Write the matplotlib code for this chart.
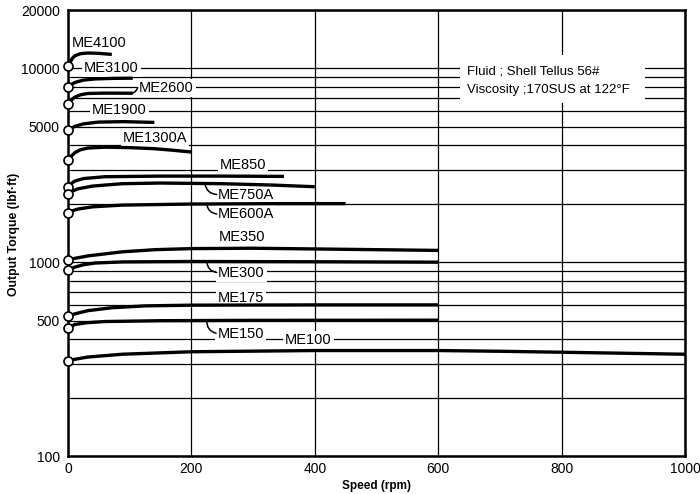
import matplotlib
matplotlib.use("Agg")
import matplotlib.pyplot as plt
from matplotlib.patches import Rectangle
from matplotlib.ticker import FixedLocator, FixedFormatter, NullFormatter

plt.rcParams['font.family'] = ['Liberation Sans', 'DejaVu Sans']

# ---------------- data (speed rpm, torque lbf.ft) ----------------
me4100_x = [0, 3, 7, 11, 20, 32, 50, 71]
me4100_y = [10300, 10700, 11250, 11600, 11900, 12000, 11950, 11800]

me3100_x = [0, 5, 11, 25, 45, 75, 105]
me3100_y = [8000, 8250, 8450, 8700, 8820, 8880, 8900]

me2600_x = [0, 5, 11, 20, 32, 60, 105]
me2600_y = [6580, 6850, 7100, 7300, 7420, 7450, 7440]

me1900_x = [0, 5, 11, 25, 49, 90, 140]
me1900_y = [4780, 4900, 5020, 5170, 5280, 5310, 5260]

me1300a_x = [0, 5, 11, 20, 32, 60, 100, 140, 170, 200]
me1300a_y = [3357, 3520, 3670, 3800, 3880, 3920, 3900, 3850, 3780, 3700]

me850_x = [0, 5, 11, 25, 60, 150, 250, 350]
me850_y = [2435, 2540, 2620, 2700, 2760, 2780, 2780, 2770]

me750a_x = [0, 5, 16, 40, 88, 150, 250, 330, 400]
me750a_y = [2252, 2310, 2390, 2470, 2540, 2560, 2540, 2500, 2450]

me600a_x = [0, 5, 16, 40, 88, 200, 350, 450]
me600a_y = [1790, 1830, 1880, 1930, 1970, 1995, 2005, 2005]

me350_x = [0, 10, 32, 88, 141, 200, 300, 400, 500, 600]
me350_y = [1025, 1045, 1077, 1131, 1160, 1175, 1180, 1170, 1160, 1150]

me300_x = [0, 5, 11, 25, 44, 88, 200, 400, 600]
me300_y = [910, 925, 943, 970, 990, 1003, 1008, 1005, 1000]

me175_x = [0, 10, 32, 71, 125, 200, 400, 600]
me175_y = [527, 540, 562, 582, 595, 600, 602, 602]

me150_x = [0, 5, 11, 30, 60, 150, 300, 600]
me150_y = [455, 465, 477, 487, 494, 499, 501, 502]

me100_x = [0, 10, 32, 88, 200, 400, 600, 700, 800, 900, 1000]
me100_y = [310, 315, 324, 335, 345, 350, 350, 347, 343, 339, 335]

curves = [
    (me4100_x, me4100_y), (me3100_x, me3100_y), (me2600_x, me2600_y),
    (me1900_x, me1900_y), (me1300a_x, me1300a_y), (me850_x, me850_y),
    (me750a_x, me750a_y), (me600a_x, me600a_y), (me350_x, me350_y),
    (me300_x, me300_y), (me175_x, me175_y), (me150_x, me150_y),
    (me100_x, me100_y),
]

labels = ["ME4100", "ME3100", "ME2600", "ME1900", "ME1300A", "ME850", "ME750A",
          "ME600A", "ME350", "ME300", "ME175", "ME150", "ME100"]
label_x = [6, 26, 115, 39, 89, 246, 243, 243, 245, 243, 243, 242, 352]
label_y = [13480, 10000, 7950, 6130, 4350, 3190, 2230, 1767, 1346, 880, 652, 427, 395]

# leaders: (curve point x, y, label end x, y)
leaders = [
    (98, 7430, 113, 7950),
    (222, 2545, 241, 2235),
    (225, 1995, 241, 1775),
    (225, 1008, 241, 885),
    (225, 499, 240, 430),
]

x_ticks = [0, 200, 400, 600, 800, 1000]
y_major = [100, 500, 1000, 5000, 10000, 20000]
y_major_labels = ["100", "500", "1000", "5000", "10000", "20000"]
y_minor = [200, 300, 400, 600, 700, 800, 900, 2000, 3000, 4000, 6000, 7000, 8000, 9000]

note_lines = ["Fluid ; Shell Tellus 56#", "Viscosity ;170SUS at 122°F"]
note_x = 647
note_y = [9610, 7710]
note_box = (635, 6610, 935, 11670)  # x0, y0, x1, y1

# ---------------- figure ----------------
fig = plt.figure(figsize=(7.0, 4.94), dpi=100)
ax = fig.add_axes([68/700, 1-456/494, (685-68)/700, (456-10)/494])
ax.set_yscale('log')
ax.set_xlim(0, 1000)
ax.set_ylim(100, 20000)

ax.xaxis.set_major_locator(FixedLocator(x_ticks))
ax.yaxis.set_major_locator(FixedLocator(y_major))
ax.yaxis.set_major_formatter(FixedFormatter(y_major_labels))
ax.yaxis.set_minor_locator(FixedLocator(y_minor))
ax.yaxis.set_minor_formatter(NullFormatter())
ax.tick_params(axis='both', which='both', length=0, labelsize=10)
ax.tick_params(axis='y', pad=6)
ax.tick_params(axis='x', pad=4)

ax.set_axisbelow(True)
ax.grid(True, which='major', axis='both', color='black', lw=0.9)
ax.grid(True, which='minor', axis='y', color='black', lw=0.9)
for s in ax.spines.values():
    s.set_linewidth(1.8)

# white note box
x0, y0, x1, y1 = note_box
ax.add_patch(Rectangle((x0, y0), x1 - x0, y1 - y0, facecolor='white',
                       edgecolor='none', zorder=1))
for t, yy in zip(note_lines, note_y):
    ax.text(note_x, yy, t, fontsize=9.5, va='center', ha='left', zorder=2)

# curves
for xs, ys in curves:
    ax.plot(xs, ys, color='black', lw=2.4, zorder=3, solid_capstyle='butt',
            solid_joinstyle='round', clip_on=False)
    ax.plot(xs[0], ys[0], 'o', ms=6.5, mfc='white', mec='black', mew=1.2,
            zorder=5, clip_on=False)

# labels
for t, lx, ly in zip(labels, label_x, label_y):
    ax.text(lx, ly, t, fontsize=10.5, ha='left', va='center', zorder=2,
            bbox=dict(facecolor='white', edgecolor='none', pad=1.5))

for cx, cy, lx, ly in leaders:
    ax.annotate('', xy=(cx, cy), xytext=(lx, ly),
                arrowprops=dict(arrowstyle='-', connectionstyle='arc3,rad=-0.4',
                                lw=1.1, color='black', shrinkA=0, shrinkB=0),
                zorder=4)

ax.set_xlabel("Speed (rpm)", fontsize=8.5, fontweight='bold', labelpad=3)
fig.text(14/700, 1 - 234/494, "Output Torque (lbf·ft)", fontsize=8.8,
         fontweight='bold', rotation=90, ha='center', va='center')

fig.savefig("out.png", dpi=100, facecolor='white')
